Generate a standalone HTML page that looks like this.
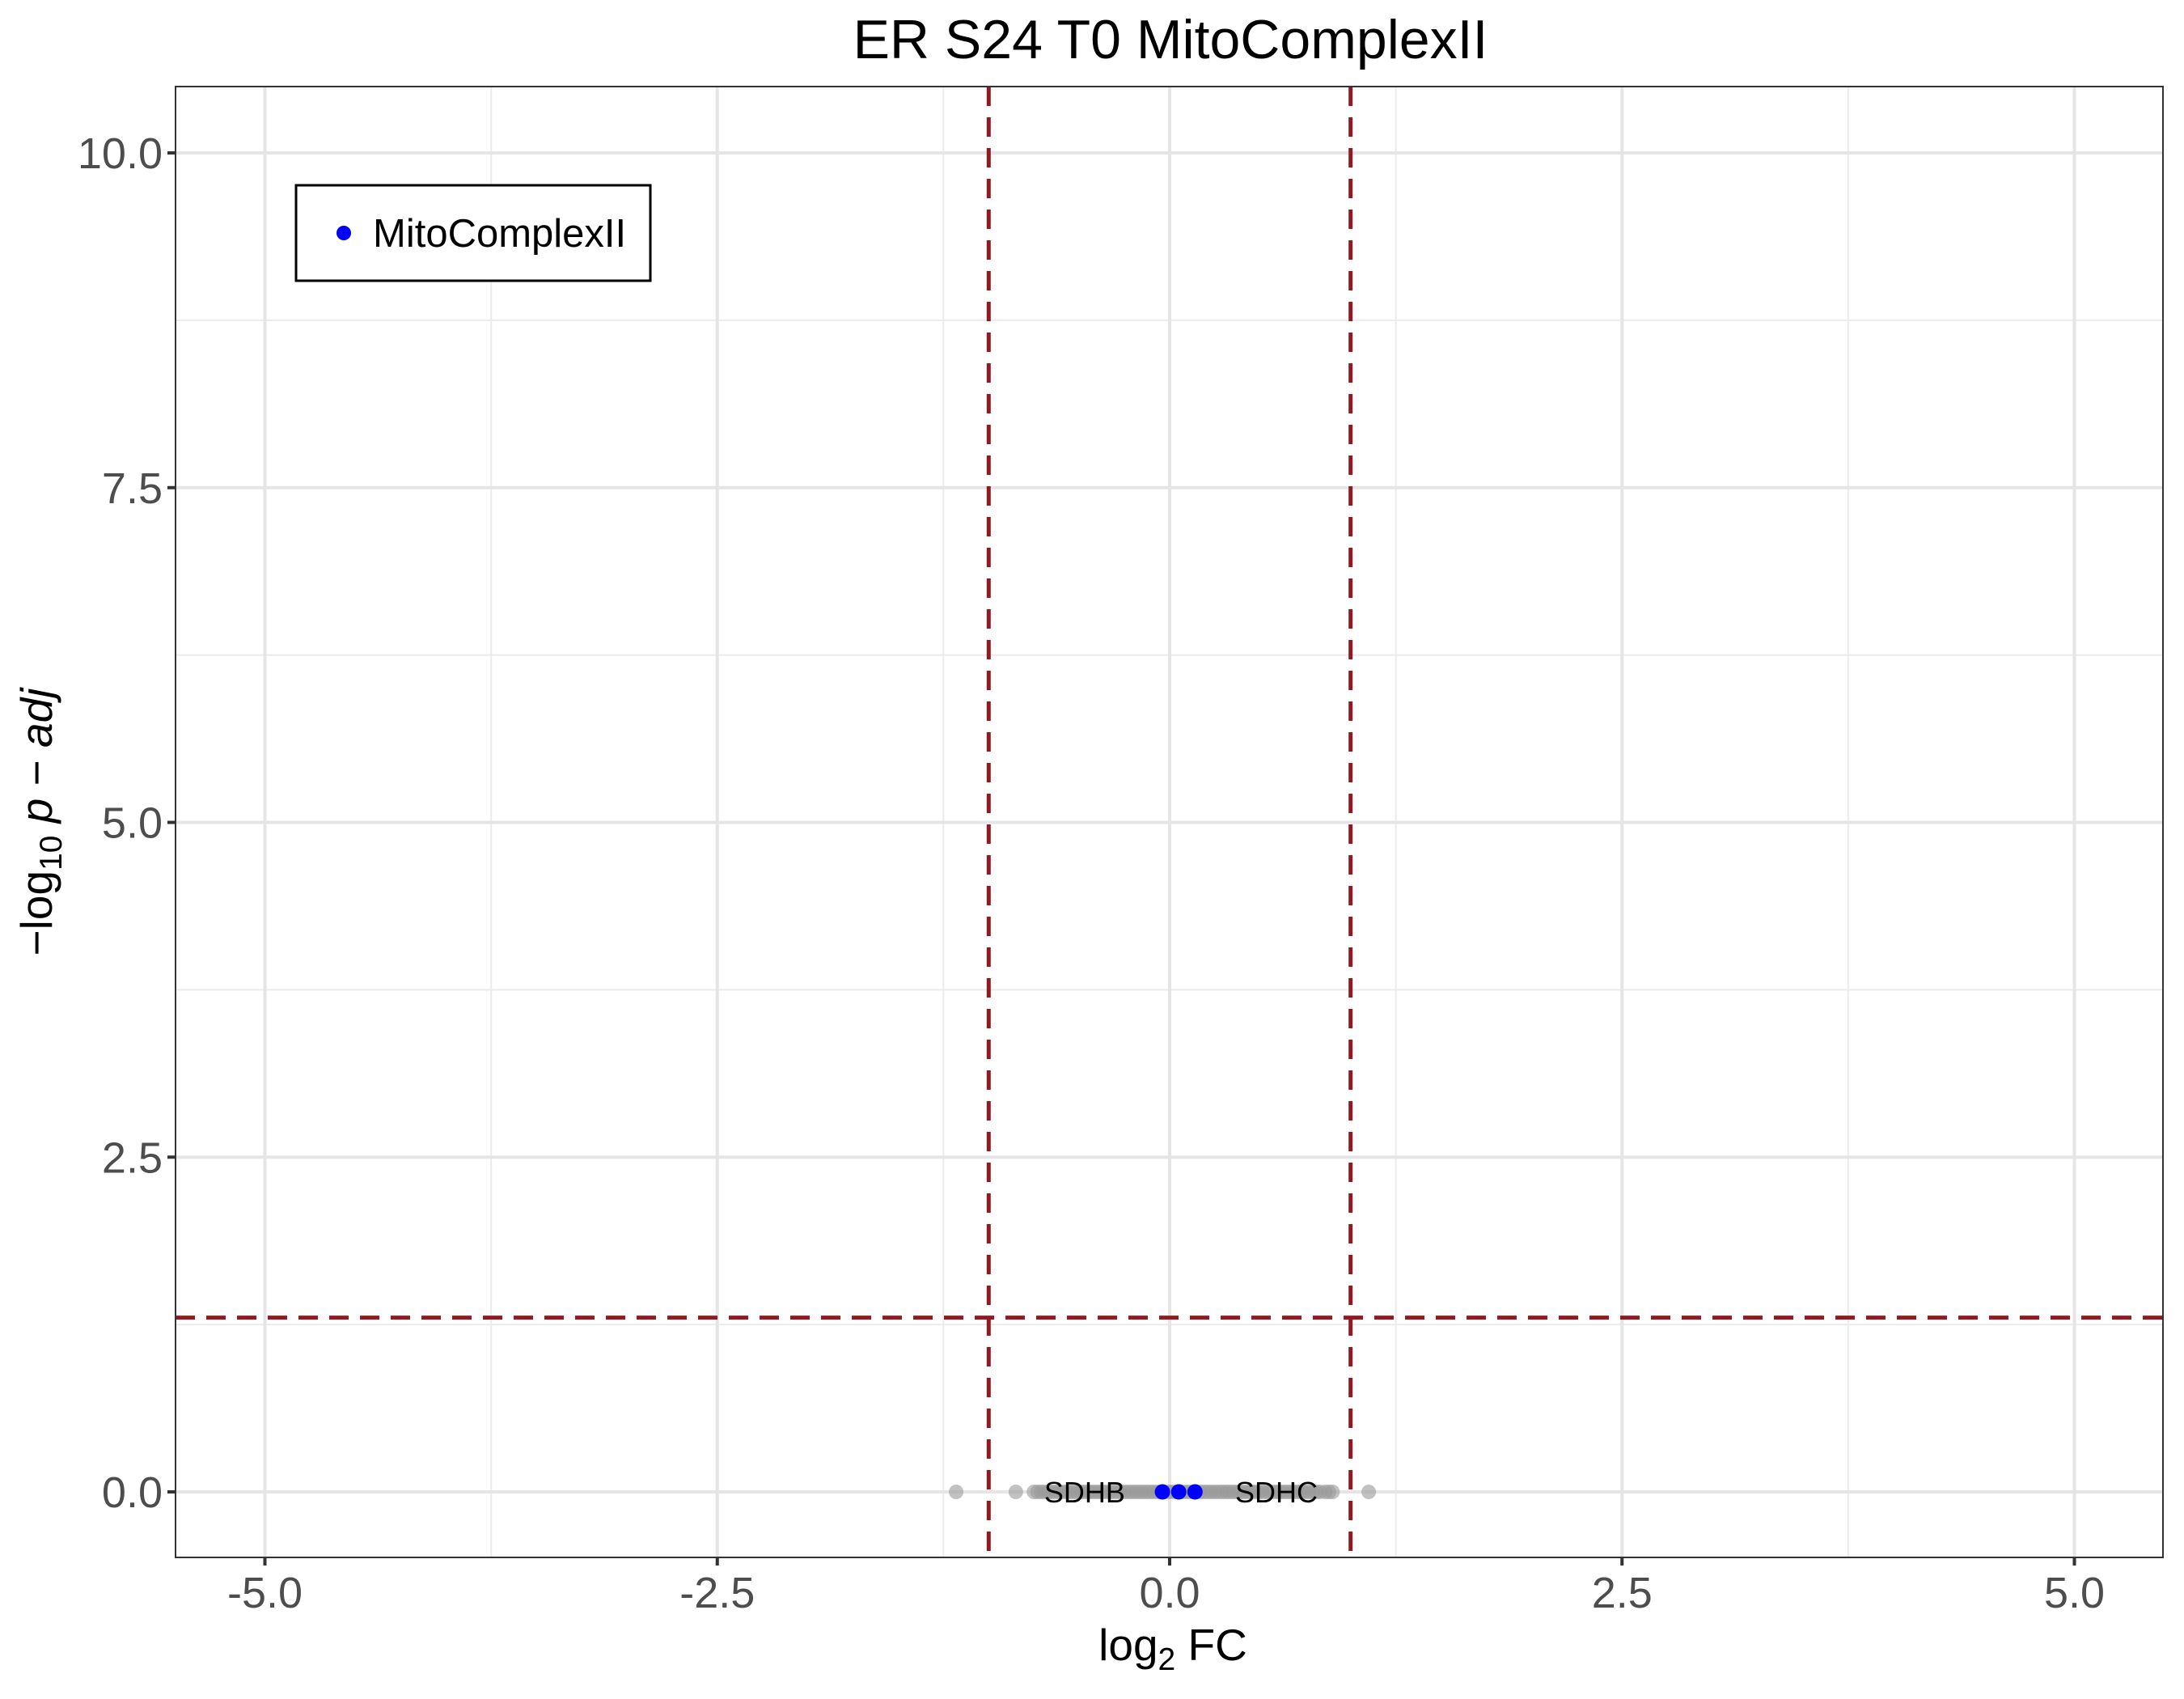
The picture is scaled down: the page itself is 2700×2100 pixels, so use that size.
<!DOCTYPE html>
<html><head><meta charset="utf-8">
<style>
html,body{margin:0;padding:0;background:#fff;}
svg{display:block;font-family:"Liberation Sans",Arial,sans-serif;}
</style></head>
<body>
<svg id="chart" width="2700" height="2100" viewBox="0 0 2700 2100" xmlns="http://www.w3.org/2000/svg">
<rect x="0" y="0" width="2700" height="2100" fill="#fff"/>
<text x="1447" y="72" font-size="68" text-anchor="middle" fill="#000">ER S24 T0 MitoComplexII</text>
<g id="grid"></g>
<g id="refs"></g>
<g id="points"></g>
<g id="labels"></g>
<rect x="217" y="107" width="2457" height="1818" fill="none" stroke="#333" stroke-width="2"/>
<g id="axes"></g>
<text x="1450" y="2052" font-size="55" text-anchor="middle" fill="#000">log<tspan font-size="39" dy="12">2</tspan><tspan dy="-12"> FC</tspan></text>
<text transform="translate(64,1016) rotate(-90)" font-size="55" text-anchor="middle" fill="#000">−log<tspan font-size="39" dy="12">10</tspan><tspan dy="-12" font-style="italic"> p</tspan> − <tspan font-style="italic">adj</tspan></text>
<g>
<rect x="366" y="229" width="438" height="118" fill="#fff" stroke="#000" stroke-width="3"/>
<circle cx="425" cy="288" r="9" fill="#0000ff"/>
<text x="461" y="305" font-size="49" fill="#000">MitoComplexII</text>
</g>
</svg>
<script>
const xTicks = [-5, -2.5, 0, 2.5, 5];
const xTickLabels = ["-5.0", "-2.5", "0.0", "2.5", "5.0"];
const xMinor = [-3.75, -1.25, 1.25, 3.75];
const yTicks = [0, 2.5, 5, 7.5, 10];
const yTickLabels = ["0.0", "2.5", "5.0", "7.5", "10.0"];
const yMinor = [1.25, 3.75, 6.25, 8.75];
const vThresholds = [-1, 1];
const hThreshold = [1.30103];
const grayX = [-1.18,-0.85,-0.75,-0.73,-0.71,-0.69,-0.67,-0.65,-0.63,-0.61,-0.59,-0.57,-0.55,-0.53,-0.51,-0.49,-0.47,-0.45,-0.43,-0.41,-0.39,-0.37,-0.35,-0.33,-0.31,-0.29,-0.27,-0.25,-0.23,-0.21,-0.19,-0.17,-0.15,-0.13,-0.11,-0.09,-0.07,-0.05,-0.03,-0.01,0.01,0.03,0.05,0.07,0.09,0.11,0.13,0.15,0.17,0.19,0.21,0.23,0.25,0.27,0.29,0.31,0.33,0.35,0.37,0.39,0.41,0.43,0.45,0.47,0.49,0.51,0.53,0.55,0.57,0.59,0.61,0.63,0.65,0.67,0.69,0.71,0.73,0.75,0.77,0.79,0.81,0.83,0.86,0.88,0.90,1.10];
const grayY = grayX.map(()=>0);
const blueX = [-0.04, 0.05, 0.14];
const blueY = [0, 0, 0];
const labelText = ["SDHB", "SDHC"];
const labelX = [-0.47, 0.59];
const labelY = [0, 0];

const NS = "http://www.w3.org/2000/svg";
const L=217,R=2674,T=107,B=1925;
const sx = v => 1446 + v*223.7;
const sy = v => 1844 - v*165.5;
function mk(tag, attrs, parent){const e=document.createElementNS(NS,tag);for(const k in attrs)e.setAttribute(k,attrs[k]);parent.appendChild(e);return e;}
const grid=document.getElementById('grid'), refs=document.getElementById('refs'), pts=document.getElementById('points'), labs=document.getElementById('labels'), axes=document.getElementById('axes');

xMinor.forEach(v=>{const e=mk('line',{x1:sx(v),x2:sx(v),y1:T,y2:B,stroke:'#ebebeb','stroke-width':2},grid);

});
yMinor.forEach(v=>{const e=mk('line',{x1:L,x2:R,y1:sy(v),y2:sy(v),stroke:'#ebebeb','stroke-width':2},grid);

});
xTicks.forEach((v,i)=>{const e=mk('line',{x1:sx(v),x2:sx(v),y1:T,y2:B,stroke:'#e5e5e5','stroke-width':4},grid);


const t=mk('line',{x1:sx(v),x2:sx(v),y1:B,y2:B+10,stroke:'#333','stroke-width':4},axes);


const tx=mk('text',{x:sx(v),y:B+62,'font-size':54,'text-anchor':'middle',fill:'#4d4d4d'},axes);
tx.textContent=xTickLabels[i];

});
yTicks.forEach((v,i)=>{const e=mk('line',{x1:L,x2:R,y1:sy(v),y2:sy(v),stroke:'#e5e5e5','stroke-width':4},grid);


const t=mk('line',{x1:L-10,x2:L,y1:sy(v),y2:sy(v),stroke:'#333','stroke-width':4},axes);


const tx=mk('text',{x:L-16,y:sy(v)+19,'font-size':54,'text-anchor':'end',fill:'#4d4d4d'},axes);
tx.textContent=yTickLabels[i];

});

vThresholds.forEach(v=>{const e=mk('line',{x1:sx(v),x2:sx(v),y1:T,y2:B,stroke:'#8f1a22','stroke-width':5,'stroke-dasharray':'24 14'},refs);

});
hThreshold.forEach(v=>{const e=mk('line',{x1:L,x2:R,y1:sy(v),y2:sy(v),stroke:'#8f1a22','stroke-width':5,'stroke-dasharray':'24 14'},refs);

});

grayX.forEach((v,i)=>{const c=mk('circle',{cx:sx(v),cy:sy(grayY[i]),r:9,fill:'#999999','fill-opacity':0.6},pts);

});
blueX.forEach((v,i)=>{const c=mk('circle',{cx:sx(v),cy:sy(blueY[i]),r:9.5,fill:'#0000ff'},pts);

});
labelText.forEach((s,i)=>{const t=mk('text',{x:sx(labelX[i]),y:sy(labelY[i])+13,'font-size':36,'text-anchor':'middle',fill:'#000'},labs);
t.textContent=s;

});
</script>
</body></html>
